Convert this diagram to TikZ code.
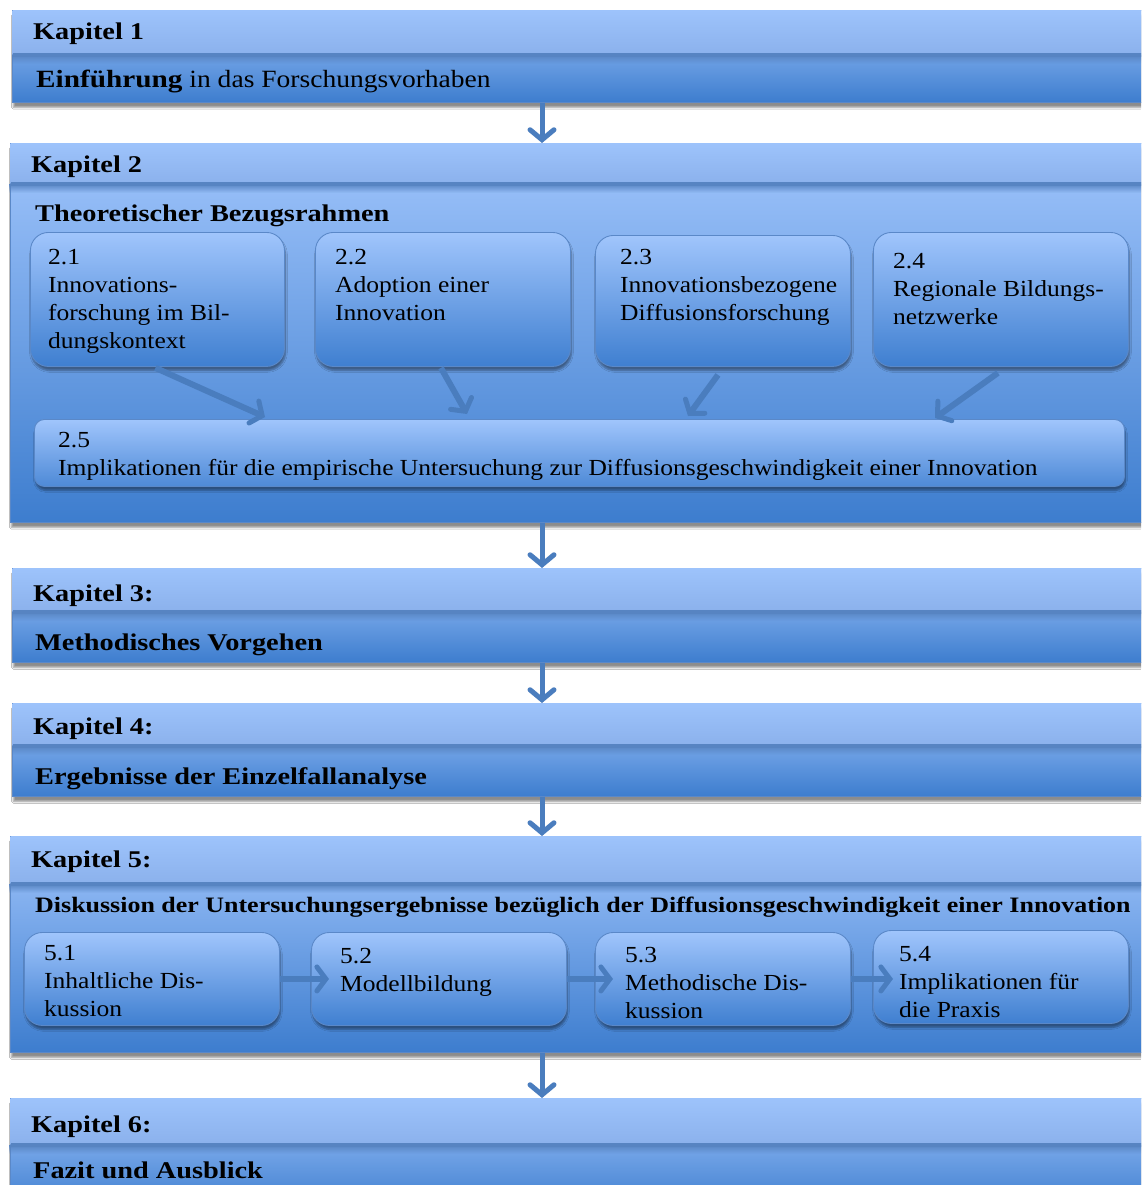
\documentclass[tikz,border=0pt]{standalone}
\usepackage{fontspec}
\setmainfont[FakeStretch=1.11,BoldFeatures={FakeStretch=1.18}]{Liberation Serif}
\usetikzlibrary{arrows.meta,shadows.blur,fadings,calc}

\definecolor{headtop}{HTML}{9DC3FB}
\definecolor{headbot}{HTML}{8BB1EC}
\definecolor{bodytop}{HTML}{A0C5FC}
\definecolor{bodybot}{HTML}{3D7DCE}
\definecolor{frame}{HTML}{5A88C8}
\definecolor{divider}{HTML}{5784C2}
\definecolor{arrowblue}{HTML}{4A7DBE}
\definecolor{subtop}{HTML}{A0C5FC}
\definecolor{subbot}{HTML}{3F7FD0}

\tikzfading[name=fadedown, top color=transparent!0, bottom color=transparent!100]

\tikzset{
  chapbody/.style={rectangle, draw=frame, line width=0.8pt, top color=bodytop, bottom color=bodybot,
    inner sep=0pt, anchor=north west,
    blur shadow={shadow xshift=1pt, shadow yshift=-5pt, shadow blur steps=6, shadow opacity=45}},
  chaphead/.style={rectangle, top color=headtop, bottom color=headbot, inner sep=0pt, anchor=north west},
  subbox/.style={rectangle, rounded corners=18pt, draw=frame, line width=0.9pt,
    top color=subtop, bottom color=subbot, inner sep=0pt, anchor=north west,
    blur shadow={shadow xshift=1pt, shadow yshift=-4pt, shadow blur steps=6, shadow opacity=40}},
  wide/.style={subbox, rounded corners=10pt, top color=subtop, bottom color=subbot!85!subtop},
  title/.style={anchor=base west, inner sep=0pt, font=\fontsize{24}{28}\selectfont\bfseries},
  plain/.style={anchor=base west, inner sep=0pt, font=\fontsize{24.8}{28}\selectfont},
  subtext/.style={anchor=north west, inner sep=0pt, align=left, font=\fontsize{23}{28}\selectfont},
  flow/.style={draw=arrowblue, line width=5pt,
    -{Straight Barb[length=10pt, width=24pt, line width=5pt, line cap=round]}},
  feed/.style={draw=arrowblue, line width=6pt,
    -{Straight Barb[length=9pt, width=24pt, line width=5pt, line cap=round]}},
}

% one chapter: name, left, top, header bottom, bottom
\newcommand{\chapterbox}[5]{%
  \node[chapbody, minimum width={1170-#2}, minimum height={#5-#3}] (#1) at (#2,#3) {};
  \node[chaphead, minimum width={1170-#2-1}, minimum height={#4-#3-1}] (#1h) at (#2+0.5,#3+0.5) {};
  \fill[divider, path fading=fadedown] (#1h.south west) rectangle ++(1170-#2,9);
  \draw[divider, line width=3.5pt] (#1h.south west) -- (#1h.south east);
}

\begin{document}
\begin{tikzpicture}[x=1pt, y=-1pt]
\useasboundingbox (0,0) rectangle (1141,1185);
\begin{scope}
\clip (0,0) rectangle (1141,1185);
\fill[white] (0,0) rectangle (1141,1185);

\coordinate (ax) at (542,0);

% Kapitel 1
\chapterbox{k1}{12}{10}{55}{102}
\node[title] (k1t) at (33,40) {Kapitel 1};
\node[plain] (k1b) at (36,88) {\textbf{Einführung} in das Forschungsvorhaben};

% Kapitel 2
\chapterbox{k2}{10}{143}{184}{522}
\node[title] (k2t) at (31,172) {Kapitel 2};
\node[title] (k2b) at (35,221) {Theoretischer Bezugsrahmen};

\node[subbox, minimum width=254, minimum height=134] (b21) at (30,232) {};
\node[subbox, minimum width=255, minimum height=134] (b22) at (315,232) {};
\node[subbox, minimum width=255, minimum height=131] (b23) at (595,235) {};
\node[subbox, minimum width=255, minimum height=134] (b24) at (873,232) {};
\node[wide, minimum width=1090, minimum height=67] (b25) at (34,419) {};

\node[subtext] (t21) at (48,245) {\rule{0pt}{19pt}2.1\\Innovations-\\forschung im Bil-\\dungskontext};
\node[subtext] (t22) at (335,245) {\rule{0pt}{19pt}2.2\\Adoption einer\\Innovation};
\node[subtext] (t23) at (620,245) {\rule{0pt}{19pt}2.3\\Innovationsbezogene\\Diffusionsforschung};
\node[subtext] (t24) at (893,249) {\rule{0pt}{19pt}2.4\\Regionale Bildungs-\\netzwerke};
\node[subtext] (t25) at (58,428) {\rule{0pt}{19pt}2.5\\Implikationen für die empirische Untersuchung zur Diffusionsgeschwindigkeit einer Innovation};

\draw[feed] ($(b21.south)+(-2,1)$) -- ($(b25.north west)+(231,-2)$);
\draw[feed] ($(b22.south)+(-2,1)$) -- ($(b25.north west)+(433,-5)$);
\draw[feed] ($(b23.south)+(-5,8)$) -- ($(b25.north west)+(654,-3)$);
\draw[feed] ($(b24.south)+(-3,6)$) -- ($(b25.north west)+(901,-1)$);

% Kapitel 3
\chapterbox{k3}{12}{568}{612}{662}
\node[title] (k3t) at (33,601) {Kapitel 3:};
\node[title] (k3b) at (35,650) {Methodisches Vorgehen};

% Kapitel 4
\chapterbox{k4}{12}{703}{746}{796}
\node[title] (k4t) at (33,734) {Kapitel 4:};
\node[title] (k4b) at (35,784) {Ergebnisse der Einzelfallanalyse};

% Kapitel 5
\chapterbox{k5}{10}{836}{884}{1052}
\node[title] (k5t) at (31,867) {Kapitel 5:};
\node[title, font=\fontsize{22}{26}\selectfont\bfseries] (k5b) at (35,912) {Diskussion der Untersuchungsergebnisse bezüglich der Diffusionsgeschwindigkeit einer Innovation};

\node[subbox, minimum width=255, minimum height=93] (b51) at (24,932) {};
\node[subbox, minimum width=255, minimum height=93] (b52) at (311,932) {};
\node[subbox, minimum width=255, minimum height=93] (b53) at (595,932) {};
\node[subbox, minimum width=255, minimum height=93] (b54) at (873,930) {};

\node[subtext] (t51) at (44,941) {\rule{0pt}{19pt}5.1\\Inhaltliche Dis-\\kussion};
\node[subtext] (t52) at (340,944) {\rule{0pt}{19pt}5.2\\Modellbildung};
\node[subtext] (t53) at (625,943) {\rule{0pt}{19pt}5.3\\Methodische Dis-\\kussion};
\node[subtext] (t54) at (899,942) {\rule{0pt}{19pt}5.4\\Implikationen für\\die Praxis};

\draw[feed, shorten >=-18pt] (b51.east) -- (b52.west);
\draw[feed, shorten >=-18pt] (b52.east) -- (b53.west);
\draw[feed, shorten >=-20pt] (b53.east) -- (b54.west |- b53.east);

% Kapitel 6
\chapterbox{k6}{10}{1098}{1145}{1210}
\node[title] (k6t) at (31,1132) {Kapitel 6:};
\node[title] (k6b) at (33,1178) {Fazit und Ausblick};

% chapter sequence
\draw[flow] (k1.south -| ax) -- (k2.north -| ax);
\draw[flow] (k2.south -| ax) -- (k3.north -| ax);
\draw[flow] (k3.south -| ax) -- (k4.north -| ax);
\draw[flow] (k4.south -| ax) -- (k5.north -| ax);
\draw[flow] (k5.south -| ax) -- (k6.north -| ax);
\end{scope}
\end{tikzpicture}
\end{document}
